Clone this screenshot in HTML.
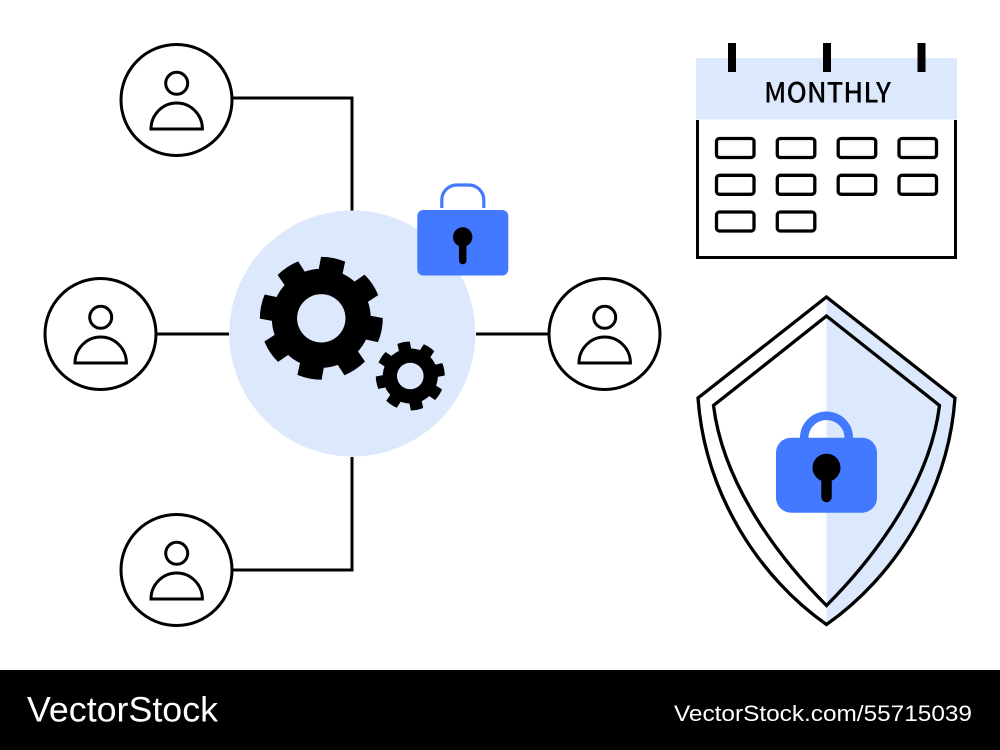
<!DOCTYPE html>
<html><head><meta charset="utf-8"><style>html,body{margin:0;padding:0;background:#fff}svg{display:block}</style></head>
<body>
<svg xmlns="http://www.w3.org/2000/svg" width="1000" height="750" viewBox="0 0 1000 750">
<rect width="1000" height="750" fill="#fff"/>
<g fill="none" stroke="#000" stroke-width="3">
<path d="M233 98H352V211M233 570H352V457M157 334H229M476 334H548"/>
</g>
<circle cx="352.3" cy="333.5" r="123" fill="#dce8fb"/>
<!-- users -->
<g fill="#fff" stroke="#000" stroke-width="3">
<g><circle cx="176.5" cy="100" r="55.5"/><circle cx="176.7" cy="83.3" r="11"/><path d="M151 129a25.7 26 0 0 1 51.4 0z"/></g>
<g transform="translate(-76 234)"><circle cx="176.5" cy="100" r="55.5"/><circle cx="176.7" cy="83.3" r="11"/><path d="M151 129a25.7 26 0 0 1 51.4 0z"/></g>
<g transform="translate(428 234)"><circle cx="176.5" cy="100" r="55.5"/><circle cx="176.7" cy="83.3" r="11"/><path d="M151 129a25.7 26 0 0 1 51.4 0z"/></g>
<g transform="translate(0 470)"><circle cx="176.5" cy="100" r="55.5"/><circle cx="176.7" cy="83.3" r="11"/><path d="M151 129a25.7 26 0 0 1 51.4 0z"/></g>
</g>
<!-- big gear -->
<g transform="translate(321.3 318.3)" fill="#000">
<circle r="49.5"/>
<path id="t1" transform="rotate(11.3)" d="M-12-40L-12.3-60.2A61.5 61.5 0 0 1 12.3-60.2L12-40Z"/>
<path transform="rotate(56.3)" d="M-12-40L-12.3-60.2A61.5 61.5 0 0 1 12.3-60.2L12-40Z"/>
<path transform="rotate(101.3)" d="M-12-40L-12.3-60.2A61.5 61.5 0 0 1 12.3-60.2L12-40Z"/>
<path transform="rotate(146.3)" d="M-12-40L-12.3-60.2A61.5 61.5 0 0 1 12.3-60.2L12-40Z"/>
<path transform="rotate(191.3)" d="M-12-40L-12.3-60.2A61.5 61.5 0 0 1 12.3-60.2L12-40Z"/>
<path transform="rotate(236.3)" d="M-12-40L-12.3-60.2A61.5 61.5 0 0 1 12.3-60.2L12-40Z"/>
<path transform="rotate(281.3)" d="M-12-40L-12.3-60.2A61.5 61.5 0 0 1 12.3-60.2L12-40Z"/>
<path transform="rotate(326.3)" d="M-12-40L-12.3-60.2A61.5 61.5 0 0 1 12.3-60.2L12-40Z"/>
<circle r="24.2" fill="#dce8fb"/>
</g>
<!-- small gear -->
<g transform="translate(410.3 376)" fill="#000">
<circle r="27.5"/>
<path transform="rotate(-11.4)" d="M-6.2-20L-6.3-33.9A34.5 34.5 0 0 1 6.3-33.9L6.2-20Z"/>
<path transform="rotate(33.6)" d="M-6.2-20L-6.3-33.9A34.5 34.5 0 0 1 6.3-33.9L6.2-20Z"/>
<path transform="rotate(78.6)" d="M-6.2-20L-6.3-33.9A34.5 34.5 0 0 1 6.3-33.9L6.2-20Z"/>
<path transform="rotate(123.6)" d="M-6.2-20L-6.3-33.9A34.5 34.5 0 0 1 6.3-33.9L6.2-20Z"/>
<path transform="rotate(168.6)" d="M-6.2-20L-6.3-33.9A34.5 34.5 0 0 1 6.3-33.9L6.2-20Z"/>
<path transform="rotate(213.6)" d="M-6.2-20L-6.3-33.9A34.5 34.5 0 0 1 6.3-33.9L6.2-20Z"/>
<path transform="rotate(258.6)" d="M-6.2-20L-6.3-33.9A34.5 34.5 0 0 1 6.3-33.9L6.2-20Z"/>
<path transform="rotate(303.6)" d="M-6.2-20L-6.3-33.9A34.5 34.5 0 0 1 6.3-33.9L6.2-20Z"/>
<circle r="13.3" fill="#dce8fb"/>
</g>
<!-- small lock -->
<path d="M441.8 208V200a15 15 0 0 1 15-15h12a15 15 0 0 1 15 15V208" fill="none" stroke="#4279ff" stroke-width="3.2"/>
<rect x="417.3" y="210" width="91" height="65.5" rx="6" fill="#4279ff"/>
<circle cx="462.7" cy="237" r="9.7" fill="#000"/>
<path d="M462.7 237V260.5" stroke="#000" stroke-width="7.5" stroke-linecap="round"/>
<!-- calendar -->
<path d="M697.5 120V257.5H955.5V120" fill="none" stroke="#000" stroke-width="3"/>
<rect x="696" y="58" width="261" height="61.5" fill="#dce8fb"/>
<g fill="#000"><rect x="728" y="43" width="8" height="29"/><rect x="823" y="43" width="8" height="29"/><rect x="917.5" y="43" width="8" height="29"/></g>
<text x="827.5" y="102.7" text-anchor="middle" font-family="'Noto Sans CJK JP','Liberation Sans',sans-serif" font-weight="500" font-size="28" textLength="127" lengthAdjust="spacingAndGlyphs" fill="#000">MONTHLY</text>
<g fill="none" stroke="#000" stroke-width="3.3">
<rect x="716.5" y="138.5" width="37.5" height="19" rx="3"/><rect x="777.3" y="138.5" width="37.5" height="19" rx="3"/><rect x="838.2" y="138.5" width="37.5" height="19" rx="3"/><rect x="899" y="138.5" width="37.5" height="19" rx="3"/>
<rect x="716.5" y="175.3" width="37.5" height="19" rx="3"/><rect x="777.3" y="175.3" width="37.5" height="19" rx="3"/><rect x="838.2" y="175.3" width="37.5" height="19" rx="3"/><rect x="899" y="175.3" width="37.5" height="19" rx="3"/>
<rect x="716.5" y="212" width="37.5" height="19" rx="3"/><rect x="777.3" y="212" width="37.5" height="19" rx="3"/>
</g>
<!-- shield -->
<path d="M826.5 297L955 398C948 495 893 578 826.5 624.5Z" fill="#dce8fb"/>
<g fill="none" stroke="#000" stroke-width="3.3" stroke-linejoin="miter">
<path d="M826.5 297L955 398C948 495 893 578 826.5 624.5C760 578 705 495 698 398Z"/>
<path d="M826.5 316L939.5 405.5C929 490 867 565 826.5 605.5C786 565 724 490 713.5 405.5Z"/>
</g>
<!-- big lock -->
<path d="M804.2 441V438a22.3 22.3 0 0 1 44.6 0V441" fill="none" stroke="#4279ff" stroke-width="8.5"/>
<rect x="776" y="437.7" width="101" height="75" rx="15" fill="#4279ff"/>
<circle cx="826.5" cy="467.7" r="14" fill="#000"/>
<path d="M826.5 468V497" stroke="#000" stroke-width="10.5" stroke-linecap="round"/>
<!-- footer -->
<rect x="0" y="670" width="1000" height="80" fill="#000"/>
<text x="27" y="721.5" font-family="'Liberation Sans',sans-serif" font-size="35" textLength="191" lengthAdjust="spacingAndGlyphs" fill="#fff">VectorStock</text>
<text x="674" y="721" font-family="'Liberation Sans',sans-serif" font-size="22.5" textLength="298" lengthAdjust="spacingAndGlyphs" fill="#fff">VectorStock.com/55715039</text>
</svg>
</body></html>
